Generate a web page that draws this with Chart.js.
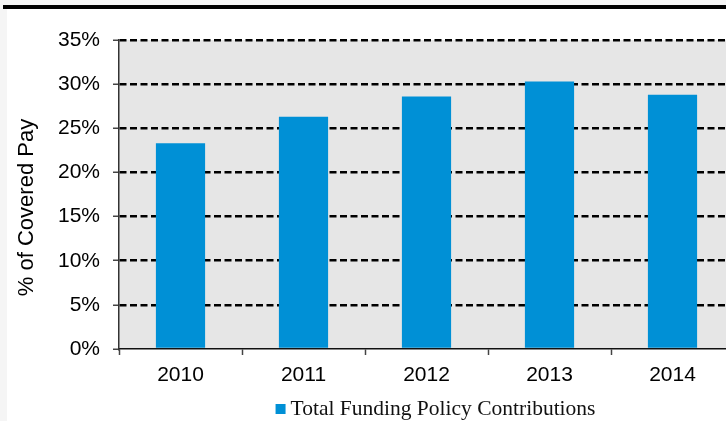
<!DOCTYPE html>
<html>
<head>
<meta charset="utf-8">
<script src="https://cdn.jsdelivr.net/npm/chart.js@4/dist/chart.umd.min.js"></script>
<style>
  html, body { margin: 0; padding: 0; width: 726px; height: 421px; overflow: hidden; background: #f5f5f5; }
  #rule { position: absolute; left: 3px; top: 5px; width: 723px; height: 4px; background: #000; }
  #panel { position: absolute; left: 7px; top: 9px; width: 733px; height: 412px; background: #fff; }
  canvas { display: block; }
</style>
</head>
<body>
<div id="rule"></div>
<div id="panel"><canvas id="c" width="733" height="412"></canvas></div>
<script>
// Contribution rates by fiscal year
const years = ['2010', '2011', '2012', '2013', '2014'];
const contributionPct = [23.3, 26.3, 28.6, 30.3, 28.8];
const seriesName = 'Total Funding Policy Contributions';
const axisTitle = '% of Covered Pay';
const yMax = 35;
const yStep = 5;

const barColor = '#0090d6';
const plotFill = '#e6e6e6';
const sansFamily = '"Liberation Sans", Arial, sans-serif';

// Grey plot background behind the grid and bars
const plotBackground = {
  id: 'plotBackground',
  beforeDraw(chart) {
    const { ctx, chartArea: a } = chart;
    ctx.save();
    ctx.fillStyle = plotFill;
    ctx.fillRect(a.left, a.top, a.right - a.left, a.bottom - a.top);
    ctx.restore();
  }
};

// Rotated value-axis title and the single-entry legend under the axis labels
const annotations = {
  id: 'annotations',
  afterDraw(chart) {
    const { ctx, chartArea: a } = chart;
    ctx.save();
    ctx.fillStyle = '#000';
    ctx.font = '22px ' + sansFamily;
    ctx.textAlign = 'center';
    ctx.textBaseline = 'middle';
    ctx.translate(20, (a.top + a.bottom) / 2 + 13);
    ctx.rotate(-Math.PI / 2);
    ctx.fillText(axisTitle, 0, 0);
    ctx.restore();

    ctx.save();
    ctx.font = '21.5px "Liberation Serif", "Times New Roman", serif';
    const tw = ctx.measureText(seriesName).width;
    const box = 10, gap = 5;
    const total = box + gap + tw;
    const cx = (a.left + a.right) / 2 + 9;
    const x0 = cx - total / 2;
    const yMid = 400;
    ctx.fillStyle = barColor;
    ctx.fillRect(x0, yMid - 5, box, box);
    ctx.fillStyle = '#111';
    ctx.textAlign = 'left';
    ctx.textBaseline = 'middle';
    ctx.fillText(seriesName, x0 + box + gap, yMid);
    ctx.restore();
  }
};

new Chart(document.getElementById('c'), {
  type: 'bar',
  data: {
    labels: years,
    datasets: [{
      label: seriesName,
      data: contributionPct,
      backgroundColor: barColor,
      borderWidth: 0,
      categoryPercentage: 1.0,
      barPercentage: 0.4
    }]
  },
  options: {
    responsive: false,
    animation: false,
    layout: { padding: { top: 31, right: 6, bottom: 34, left: 0 } },
    plugins: {
      legend: { display: false },
      tooltip: { enabled: false }
    },
    scales: {
      x: {
        afterFit(s) { s.height = 38; },
        grid: {
          offset: true,
          drawOnChartArea: false,
          drawTicks: true,
          tickLength: 6,
          tickColor: '#444',
          tickWidth: 1.5
        },
        border: { display: true, color: '#111', width: 1.5 },
        ticks: {
          color: '#000',
          padding: 8,
          font: { family: sansFamily, size: 21 }
        }
      },
      y: {
        min: 0,
        max: yMax,
        afterFit(s) { s.width = 112; },
        grid: {
          color: (ctx) => ctx.tick && ctx.tick.value === 0 ? 'rgba(0,0,0,0)' : '#000',
          lineWidth: 2.5,
          drawTicks: true,
          tickLength: 6,
          tickColor: '#444',
          tickWidth: 1.5,
          tickBorderDash: []
        },
        border: { display: true, color: '#333', width: 1.5, dash: [7, 3.5] },
        ticks: {
          stepSize: yStep,
          color: '#000',
          padding: 13,
          font: { family: sansFamily, size: 21 },
          callback: (v) => v + '%'
        }
      }
    }
  },
  plugins: [plotBackground, annotations]
});
</script>
</body>
</html>
